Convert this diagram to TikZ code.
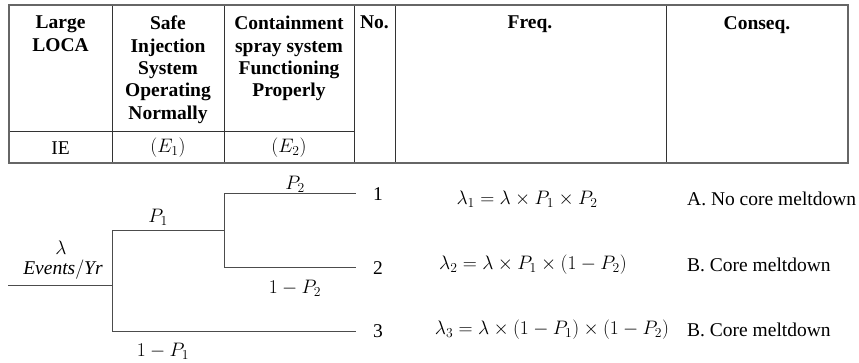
\RequirePackage{fix-cm}
\documentclass[tikz,border=0pt]{standalone}
\usepackage{amsmath}
\usepackage{fontspec}
\setmainfont{Liberation Serif}
\begin{document}
\begin{tikzpicture}[x=1pt,y=-1pt,
  txt/.style={font=\fontsize{19.5}{22.3}\selectfont, inner sep=0pt},
  head/.style={txt, font=\fontsize{19.5}{22.3}\selectfont\bfseries, align=center, anchor=north},
  border/.style={draw=black!60, line width=1.3pt},
  grid/.style={draw=black!80, line width=1pt},
  branch/.style={draw=black!70, line width=1pt}]
\useasboundingbox (0,0) rectangle (859,363);
% table
\draw[grid] (112,5) -- (112,163);
\draw[grid] (224,5) -- (224,163);
\draw[grid] (354,5) -- (354,163);
\draw[grid] (395,5) -- (395,163);
\draw[grid] (666,5) -- (666,163);
\draw[grid] (9,132) -- (354,132);
\draw[border] (9,5) rectangle (848,163);
% header
\node[head] (h1) at (60.5,16) {Large\\LOCA};
\node[head] (h2) at (168,16) {Safe\\Injection\\System\\Operating\\Normally};
\node[head] (h3) at (289,16) {Containment\\spray system\\Functioning\\Properly};
\node[head] (h4) at (374.5,16) {No.};
\node[head] (h5) at (530,16) {Freq.};
\node[head] (h6) at (757,16) {Conseq.};
\node[txt] (r1) at (60.5,148) {IE};
\node[txt] (r2) at (168,148) {$(E_1)$};
\node[txt] (r3) at (289,148) {$(E_2)$};
% tree
\coordinate (s) at (8,286);
\coordinate (j1) at (112,286);
\coordinate (a) at (112,231);
\coordinate (b) at (112,331);
\coordinate (j2) at (224,231);
\coordinate (c) at (224,194);
\coordinate (d) at (224,268);
\coordinate (e1) at (356,194);
\coordinate (e2) at (356,268);
\coordinate (e3) at (356,331);
\draw[branch] (s) -- (j1);
\draw[branch] (a) -- (b);
\draw[branch] (a) -- (j2);
\draw[branch] (c) -- (d);
\draw[branch] (c) -- (e1);
\draw[branch] (d) -- (e2);
\draw[branch] (b) -- (e3);
\node[txt] (n1) at (378,194) {1};
\node[txt] (n2) at (378,268) {2};
\node[txt] (n3) at (378,331) {3};
\node[txt] (lam) at (61,248) {$\lambda$};
\node[txt] (ev) at (63,270) {$\mathit{Events}/\mathit{Yr}$};
\node[txt] (p1) at (158,217) {$P_1$};
\node[txt] (p2) at (295,184) {$P_2$};
\node[txt] (q2) at (295,288) {$1-P_2$};
\node[txt] (q1) at (163,351) {$1-P_1$};
% frequencies
\node[txt] (f1) at (527,199) {$\lambda_1=\lambda\times P_1\times P_2$};
\node[txt] (f2) at (533,265) {$\lambda_2=\lambda\times P_1\times(1-P_2)$};
\node[txt] (f3) at (552,330) {$\lambda_3=\lambda\times(1-P_1)\times(1-P_2)$};
% consequences
\node[txt, anchor=west] (c1) at (687,199) {A. No core meltdown};
\node[txt, anchor=west] (c2) at (687,265) {B. Core meltdown};
\node[txt, anchor=west] (c3) at (687,330) {B. Core meltdown};
\end{tikzpicture}
\end{document}
